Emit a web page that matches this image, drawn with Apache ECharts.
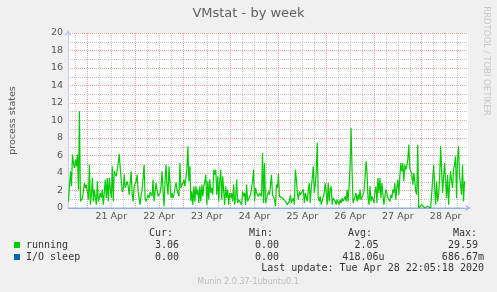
<!DOCTYPE html>
<html><head><meta charset="utf-8">
<script src="https://cdn.jsdelivr.net/npm/echarts@6/dist/echarts.min.js"></script>
<style>html,body{margin:0;padding:0;background:#f0f0f0;}#c{width:497px;height:292px;}</style>
</head><body><div id="c"></div>
<script>
// time axis: hours since 21 Apr 2020 00:00, one sample every 30 minutes
const startHour = -9.5;
const stepHours = 0.5;
const running = [
0.76,2.5,4.19,2.48,6.10,5.14,4.57,5.52,4.76,6.10,
2.10,11.05,0.76,0.9,1.14,1.90,2.86,2.29,2.67,1.8,
0.95,4.95,0.38,1.52,3.43,0.76,2.10,1.2,0.38,3.05,
0.76,1.2,1.71,1.14,2.10,0.38,1.8,3.24,1.14,3.43,
0.76,3.43,2.2,1.14,4.76,0.76,4.19,3.9,3.62,4.38,
5.14,6.17,4.57,3.2,1.83,2.10,3.81,2.29,2.7,3.05,
2.48,1.52,2.9,4.19,1.52,0.76,2.48,2.8,3.05,3.81,
1.90,1.1,0.38,1.52,2.10,3.5,4.95,1.14,0.76,1.1,
1.52,1.14,1.83,1.6,1.33,3.24,0.76,1.8,2.86,2.67,
1.33,1.5,1.71,2.48,4.19,1.90,0.19,3.05,4.95,2.67,
1.52,4.76,2.86,1.14,1.71,1.14,1.52,2.29,2.86,2.2,
1.71,1.33,5.14,2.29,2.67,2.9,3.24,2.48,2.67,4.5,
7.05,3.05,4.76,0.76,1.90,0.38,2.48,0.76,2.48,1.52,
2.10,0.57,2.48,0.76,2.67,1.33,2.48,3.0,3.81,0.38,
3.05,0.95,3.24,1.71,2.29,1.52,4.38,3.81,4.38,1.52,
3.62,0.76,3.05,4.38,0.95,3.62,1.90,0.38,2.48,1.14,
2.10,0.38,1.71,1.14,1.71,0.76,2.67,0.38,1.14,3.24,
0.57,0.95,0.76,1.14,0.38,1.90,1.33,1.71,0.38,2.67,
0.76,0.85,0.95,1.52,2.29,3.05,4.38,0.76,2.29,1.71,
1.90,1.33,1.71,1.90,1.33,6.29,0.57,5.14,0.57,0.6,
0.38,1.90,1.52,2.6,3.81,1.52,1.71,1.0,0.19,2.67,
2.29,4.0,1.33,1.4,1.52,1.14,1.33,1.0,0.76,0.95,
0.38,0.55,0.76,1.52,0.57,0.9,1.14,0.38,4.38,3.24,
1.71,0.95,1.90,1.52,1.71,1.33,2.10,0.57,1.71,1.90,
0.76,2.10,2.86,0.57,2.29,3.43,4.76,1.71,2.67,4.19,
7.43,1.14,0.76,1.33,0.38,0.19,0.38,1.71,2.86,3.05,
0.38,2.86,0.76,2.10,2.48,0.38,1.14,0.95,0.76,0.38,
0.95,1.14,0.38,0.95,0.57,1.14,0.76,0.95,1.33,0.76,
2.10,0.76,2.48,4.95,9.14,4.19,0.57,0.95,0.76,1.71,
0.76,1.52,0.95,2.10,0.95,1.14,1.52,1.90,3.43,5.33,
4.19,1.14,0.38,2.48,0.76,1.33,1.33,0.57,1.90,2.48,
0.57,3.43,1.71,3.43,1.14,2.86,1.52,0.38,1.33,2.10,
1.71,1.14,0.95,0.76,1.52,1.14,2.10,1.71,2.86,0.95,
2.29,3.24,1.52,3.62,5.14,4.19,5.14,3.05,4.95,4.38,
4.76,5.52,7.24,4.57,4.57,3.81,2.67,4.00,3.05,1.90,
1.52,7.24,0,0.19,0,0.38,0.57,0.19,0,0.19,
0,0.19,0,0,0,0,0.19,4.95,2.29,0.38,
3.05,0.76,1.52,3.43,7.05,4.19,1.71,3.62,5.14,3.05,
1.14,3.81,0.38,2.86,4.19,3.05,2.29,4.38,4.95,5.90,
1.14,5.71,7.05,3.62,2.67,1.52,4.95,0.76,3.06
];
// I/O sleep: [hour, value] readings (flat at zero, one small blip)
const ioSleep = [[-9.5,0],[118,0],[118.5,0.15],[119,0],[189.5,0]];
const dayLabels = ['21 Apr','22 Apr','23 Apr','24 Apr','25 Apr','26 Apr','27 Apr','28 Apr'];
const dayLabelHours = [12,36,60,84,108,132,156,180];
const dayStartHours = [0,24,48,72,96,120,144,168];
const minorGridHours = [-6,6,12,18,30,36,42,54,60,66,78,84,90,102,108,114,126,132,138,150,156,162,174,180,186];
const yLabelValues = [0,2,4,6,8,10,12,14,16,18,20];
const statHeaders = ['Cur:','Min:','Avg:','Max:'];
const runningStats = ['3.06','0.00','2.05','29.59'];
const ioStats = ['0.00','0.00','418.06u','686.67m'];

const runningData = running.map((v,i)=>[startHour + i*stepHours, v]);

const GRAY = 'rgba(140,140,140,0.5)';
const RED = 'rgba(235,100,100,0.6)';
const mono = '10px "DejaVu Sans Mono"';
const txt = (text,x,y,opt={}) => ({type:'text', x, y, silent:true, style:Object.assign({text, fill:'#333', font:mono, align:'left', verticalAlign:'middle'}, opt)});

const statCols = [179, 279, 378.5, 478];
const headerX = [149, 249, 348, 453];
const graphic = [
  txt('VMstat - by week', 248.5, 13.5, {font:'13px "DejaVu Sans"', fill:'#606060', align:'center'}),
  {type:'text', x:486.5, y:61, rotation:-Math.PI/2, silent:true, style:{text:'RRDTOOL / TOBI OETIKER', fill:'#c8c8c8', font:'8.5px "DejaVu Sans"', align:'center', verticalAlign:'middle'}},
  {type:'rect', shape:{x:14,y:242,width:6,height:6}, style:{fill:'#00cc00'}},
  {type:'rect', shape:{x:14,y:254,width:6,height:6}, style:{fill:'#0066b3'}},
  txt('running', 26, 245),
  txt('I/O sleep', 26, 257),
  txt('Last update: Tue Apr 28 22:05:18 2020', 484, 268.5, {align:'right'}),
  txt('Munin 2.0.37-1ubuntu0.1', 248, 282, {font:'8px "DejaVu Sans"', fill:'#bdbdbd', align:'center'})
];
statHeaders.forEach((h,i)=>graphic.push(txt(h, headerX[i], 233.5)));
runningStats.forEach((s,i)=>graphic.push(txt(s, statCols[i], 245, {align:'right'})));
ioStats.forEach((s,i)=>graphic.push(txt(s, statCols[i] + (/[a-z]$/.test(s)?6:0), 257, {align:'right'})));

const vLines = (hours, color) => ({
  silent:true, symbol:['none','none'], label:{show:false}, animation:false,
  lineStyle:{color, type:[1,1], width:1}, emphasis:{disabled:true},
  data: hours.map(h=>({xAxis:h}))
});

const chart = echarts.init(document.getElementById('c'), null, {renderer:'canvas'});
chart.setOption({
  animation:false,
  backgroundColor:'#f0f0f0',
  grid:{left:66, top:33, width:402, height:175, show:true, backgroundColor:'#ffffff', borderWidth:0},
  xAxis:{
    type:'value', min:-9.75, max:191.25,
    axisLine:{show:true, onZero:false, lineStyle:{color:'#a8b8ec', width:1}, symbol:['none','arrow'], symbolSize:[5,6], symbolOffset:[0,3]},
    axisTick:{show:false},
    axisLabel:{customValues:dayLabelHours, margin:4, color:'#555', fontSize:9.5, fontFamily:'DejaVu Sans',
      formatter:(v)=>{const k=dayLabelHours.indexOf(v); return k>=0?dayLabels[k]:'';}},
    splitLine:{show:false}
  },
  yAxis:{
    type:'value', min:0, max:20, interval:1,
    name:'process states', nameLocation:'middle', nameGap:50, nameRotate:90,
    nameTextStyle:{color:'#555', fontSize:9.5, fontFamily:'DejaVu Sans'},
    axisLine:{show:true, onZero:false, lineStyle:{color:'#c8ccf4', width:1}, symbol:['none','arrow'], symbolSize:[6,6], symbolOffset:[0,3]},
    axisTick:{show:false},
    axisLabel:{margin:5, color:'#555', fontSize:9.5, fontFamily:'DejaVu Sans',
      formatter:(v)=>yLabelValues.includes(v)?String(v):''},
    splitLine:{show:true, showMinLine:true, showMaxLine:true, lineStyle:{color:[RED,GRAY], type:[1,1], width:1}}
  },
  series:[
    {type:'line', name:'grid-minor', data:ioSleep, z:1, silent:true, showSymbol:false, symbol:'none', lineStyle:{opacity:0, width:0}, markLine:vLines(minorGridHours, GRAY)},
    {type:'line', name:'grid-major', data:ioSleep, z:1, silent:true, showSymbol:false, symbol:'none', lineStyle:{opacity:0, width:0}, markLine:vLines(dayStartHours, RED)},
    {type:'line', name:'running', data:runningData, showSymbol:false, symbol:'none', lineStyle:{color:'#00cc00', width:1.2}, z:3},
    {type:'line', name:'I/O sleep', data:ioSleep, showSymbol:false, symbol:'none', lineStyle:{color:'#0066b3', width:1, opacity:0.45}, z:4}
  ],
  graphic
});
</script></body></html>
